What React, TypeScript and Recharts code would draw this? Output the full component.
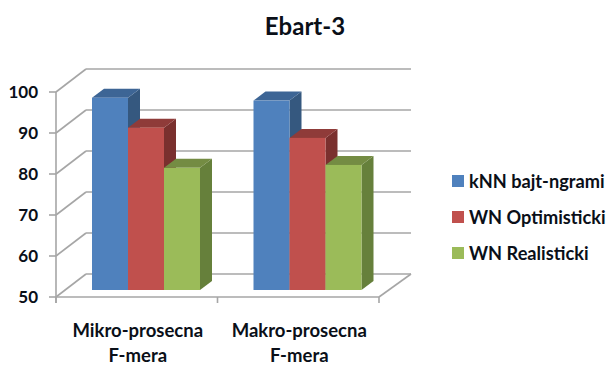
import { BarChart, Bar, XAxis, YAxis, CartesianGrid, Legend } from "recharts";

const categories = ["Mikro-prosecna F-mera", "Makro-prosecna F-mera"];
const knnValues = [96.9, 96.2];
const optimisticValues = [89.6, 87.1];
const realisticValues = [79.8, 80.5];
const yTicks = [50, 60, 70, 80, 90, 100];

const seriesList = [
  { key: "knn", name: "kNN bajt-ngrami", fill: "#4f81bd", top: "#3d6595", side: "#35587f" },
  { key: "optimistic", name: "WN Optimisticki", fill: "#c0504d", top: "#8f3b39", side: "#7a302e" },
  { key: "realistic", name: "WN Realisticki", fill: "#9bbb59", top: "#748c43", side: "#66803b" },
];

const data = categories.map((name, i) => ({
  name,
  knn: knnValues[i],
  optimistic: optimisticValues[i],
  realistic: realisticValues[i],
}));

const FONT = "Lato, Carlito, sans-serif";
const TEXT = "#0a0f18";
const GRID = "#a6a6a6";

// 3D look: walls sit behind the bar plane, front edge sits in front of it
const DEPTH_X = 12;
const DEPTH_Y = 9;
const FRONT_X = -9;
const FRONT_Y = 7;
const BACK_X = 21;
const BACK_Y = -16;
const BACK_RIGHT_X = 23;

const Box3D = (props: any) => {
  const { x, y, width, height, fill, top, side } = props;
  const r = x + width;
  const b = y + height;
  return (
    <g>
      <polygon
        points={`${r},${y} ${r + DEPTH_X},${y - DEPTH_Y} ${r + DEPTH_X},${b - DEPTH_Y} ${r},${b}`}
        fill={side}
      />
      <polygon
        points={`${x},${y} ${x + DEPTH_X},${y - DEPTH_Y} ${r + DEPTH_X},${y - DEPTH_Y} ${r},${y}`}
        fill={top}
      />
      <rect x={x} y={y} width={width} height={height} fill={fill} />
    </g>
  );
};

const gridLine = (props: any) => {
  const { x1, x2, y1, key } = props;
  const isFloor = y1 > 250;
  const left = x1 + FRONT_X;
  const right = x2 + FRONT_X;
  const fy = y1 + FRONT_Y;
  const by = y1 + BACK_Y;
  const step = (right - left) / categories.length;
  return (
    <g key={key} stroke={GRID} strokeWidth={1.6} fill="none">
      <line x1={x1 + BACK_X} y1={by} x2={x2 + BACK_RIGHT_X} y2={by} />
      <line x1={left} y1={fy} x2={x1 + BACK_X} y2={by} />
      <line x1={left - 7} y1={fy} x2={left} y2={fy} />
      {isFloor && (
        <g>
          <line x1={left} y1={fy} x2={right} y2={fy} />
          <line x1={right} y1={fy} x2={x2 + BACK_RIGHT_X} y2={by} />
          <line x1={left} y1={fy - 205} x2={left} y2={fy + 6} />
          {categories.concat("").map((_, i) => (
            <line key={i} x1={left + step * i} y1={fy} x2={left + step * i} y2={fy + 6} />
          ))}
        </g>
      )}
    </g>
  );
};

const YTick = ({ x, y, payload }: any) => (
  <text x={x - 27} y={y + 13} textAnchor="end" fontFamily={FONT} fontWeight={700} fontSize={17} fill={TEXT}>
    {payload.value}
  </text>
);

const XTick = ({ x, y, payload }: any) => {
  const parts = String(payload.value).split(" ");
  return (
    <text textAnchor="middle" fontFamily={FONT} fontWeight={700} fontSize={18.5} fill={TEXT}>
      <tspan x={x - 8} y={y + 47}>{parts[0]}</tspan>
      <tspan x={x - 8} y={y + 72}>{parts[1]}</tspan>
    </text>
  );
};

const LegendBox = () => (
  <div>
    {seriesList.map((s) => (
      <div key={s.key} style={{ display: "flex", alignItems: "center", height: 36 }}>
        <span style={{ width: 12, height: 12, background: s.fill, marginRight: 5 }} />
        <span style={{ fontFamily: FONT, fontWeight: 700, fontSize: 18.2, color: TEXT, whiteSpace: "nowrap" }}>
          {s.name}
        </span>
      </div>
    ))}
  </div>
);

export default function App() {
  return (
    <div style={{ position: "absolute", left: 0, top: 0, width: 609, height: 365, background: "#fff" }}>
      <BarChart
        width={609}
        height={365}
        data={data}
        barSize={36}
        barGap={0}
        margin={{ top: 85, right: 64, bottom: 74, left: 64 }}
      >
        <text x={305} y={35} textAnchor="middle" fontFamily={FONT} fontWeight={700} fontSize={24} fill={TEXT}>
          Ebart-3
        </text>
        <CartesianGrid horizontal={gridLine} vertical={false} />
        <XAxis
          dataKey="name"
          height={1}
          axisLine={false}
          tickLine={false}
          tickSize={0}
          tickMargin={0}
          tick={<XTick />}
          interval={0}
        />
        <YAxis
          domain={[50, 100]}
          ticks={yTicks}
          width={1}
          axisLine={false}
          tickLine={false}
          tickSize={0}
          tickMargin={0}
          tick={<YTick />}
          interval={0}
        />
        <Legend
          layout="vertical"
          align="right"
          verticalAlign="middle"
          content={<LegendBox />}
          wrapperStyle={{ left: 452, top: 163, width: 157 }}
        />
        {seriesList.map((s) => (
          <Bar
            key={s.key}
            dataKey={s.key}
            name={s.name}
            fill={s.fill}
            isAnimationActive={false}
            shape={(p: any) => <Box3D {...p} top={s.top} side={s.side} />}
          />
        ))}
      </BarChart>
    </div>
  );
}
